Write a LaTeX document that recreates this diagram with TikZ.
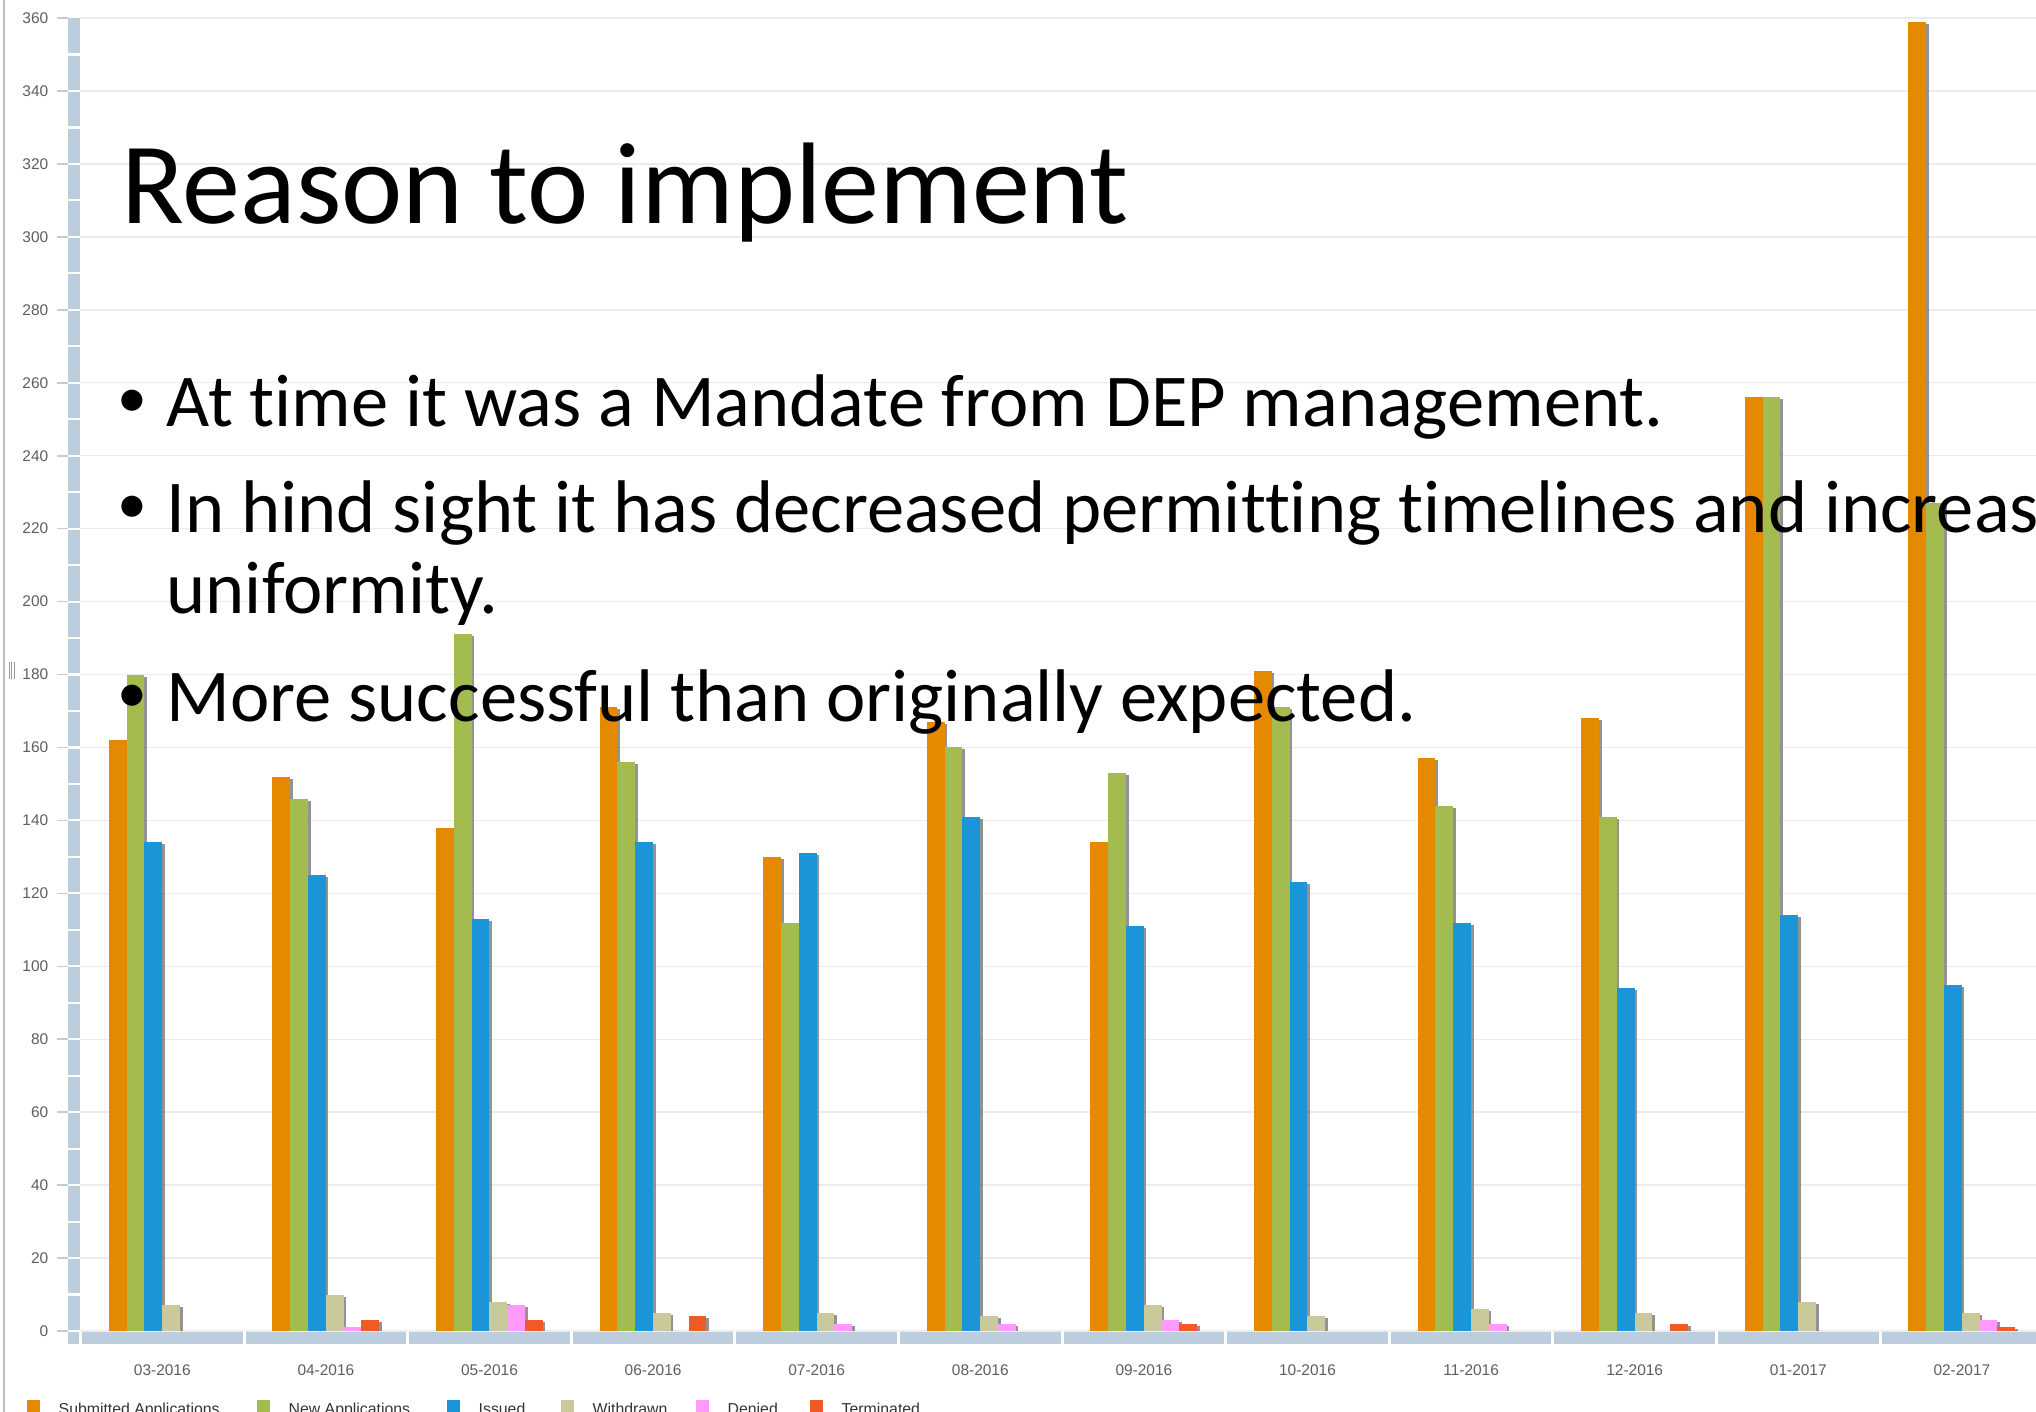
\documentclass[tikz,border=0pt]{standalone}
\usepackage{fontspec}
\setmainfont{Carlito}[Ligatures=NoCommon]
\newfontfamily\chartfont{Liberation Sans}

\definecolor{subcol}{HTML}{E48900}
\definecolor{newcol}{HTML}{A4BB4F}
\definecolor{isscol}{HTML}{1B94D8}
\definecolor{wdcol}{HTML}{C9C99C}
\definecolor{dencol}{HTML}{FF99FA}
\definecolor{termcol}{HTML}{EF5A28}
\definecolor{axiscol}{HTML}{BCCDDD}
\definecolor{gridcol}{HTML}{ECECEC}
\definecolor{ticktext}{HTML}{5E5E5E}

\tikzset{
  ticklabel/.style={font=\chartfont\fontsize{4.4}{5}\selectfont, text=ticktext, inner sep=0pt},
  legendlabel/.style={font=\chartfont\fontsize{4.5}{5}\selectfont, text=black!80, inner sep=0pt, anchor=north west},
  slidetext/.style={font=\fontsize{21.2}{25}\selectfont, inner sep=0pt, anchor=base west},
  bulletdot/.style={font=\fontsize{17}{20}\selectfont, inner sep=0pt, anchor=base},
}

\begin{document}
\begin{tikzpicture}[x=0.01cm, y=-0.01cm]
  \useasboundingbox (0,0) rectangle (2036,1412);
  \clip (0,0) rectangle (2036,1412);
  \fill[white] (0,0) rectangle (2036,1412);
  % Set the zero line and the pixels per unit
  \def\zeroy{1331}
  \def\pxper{3.647}
  \def\barw{17.8}
  % Define the data of each series
  \def\subm{{162,152,138,171,130,167,134,181,157,168,256,359}}
  \def\newapp{{180,146,191,156,112,160,153,171,144,141,256,227}}
  \def\issued{{134,125,113,134,131,141,111,123,112,94,114,95}}
  \def\withdr{{7,10,8,5,5,4,7,4,6,5,8,5}}
  \def\denied{{0,1,7,0,2,2,3,0,2,0,0,3}}
  \def\termin{{0,3,3,4,0,0,2,0,0,2,0,1}}

  % Frame line and handle at the left
  \draw[black!25, line width=0.5pt] (4,0) -- (4,1412);
  \foreach \x in {9,11.5,14} \draw[black!40, line width=0.25pt] (\x,662) -- (\x,679);

  % Gridlines, ticks and value labels
  \foreach \v in {0,20,...,360} {
    \draw[gridcol, line width=0.4pt] (80,{\zeroy-\pxper*\v}) -- (2036,{\zeroy-\pxper*\v});
    \draw[axiscol, line width=0.45pt] (57,{\zeroy-\pxper*\v}) -- (68,{\zeroy-\pxper*\v});
    \node[ticklabel, anchor=east] (ylab\v) at (49,{\zeroy-\pxper*\v}) {\v};
  }

  % Axis strips, cut into pieces
  \fill[axiscol] (67.5,{\zeroy-\pxper*360}) rectangle (79.5,1344);
  \foreach \v in {0,10,...,350}
    \draw[white, line width=0.6pt] (67.5,{\zeroy-\pxper*\v}) -- (79.5,{\zeroy-\pxper*\v});
  \fill[axiscol] (80.5,1332) rectangle (2036,1344);
  \foreach \k in {0,...,12}
    \draw[white, line width=0.85pt] ({80.5+163.6*\k},1331) -- ({80.5+163.6*\k},1345);

  % Draw the bars with their shadows
  \foreach \vals/\col [count=\j from 0] in {\subm/subcol, \newapp/newcol, \issued/isscol, \withdr/wdcol, \denied/dencol, \termin/termcol} {
    \foreach \i in {0,...,11} {
      \pgfmathsetmacro\val{\vals[\i]}
      \pgfmathsetmacro\xl{162.3+163.6*\i-53.5+\barw*\j}
      \pgfmathsetmacro\yt{\zeroy-\pxper*\val}
      \ifdim\val pt>0pt
        \fill[black!60, opacity=0.7] ({\xl+\barw},{\yt+2}) rectangle ({\xl+\barw+2.5},\zeroy);
        \fill[\col] (\xl,\yt) rectangle ({\xl+\barw},\zeroy);
      \fi
    }
  }

  % Month labels
  \foreach \m [count=\i from 0] in {03-2016,04-2016,05-2016,06-2016,07-2016,08-2016,09-2016,10-2016,11-2016,12-2016,01-2017,02-2017}
    \node[ticklabel] (cat\i) at ({162.3+163.6*\i},1370) {\m};

  % Legend, cut by the lower edge
  \foreach \x/\col/\txt [count=\n] in {27/subcol/Submitted Applications, 257/newcol/New Applications, 447/isscol/Issued, 561/wdcol/Withdrawn, 696/dencol/Denied, 810/termcol/Terminated} {
    \fill[\col] (\x,1400) rectangle ({\x+13},1413);
    \node[legendlabel] (leg\n) at ({\x+31},1402) {\txt};
  }

  % Slide title and bullets
  \node[slidetext, font=\fontsize{33}{40}\selectfont] (title) at (121,223) {Reason to implement};
  \node[slidetext] (item1) at (166,426) {At time it was a Mandate from DEP management.};
  \node[slidetext] (item2) at (166,532) {In hind sight it has decreased permitting timelines and increased};
  \node[slidetext] (item2b) at (166,613) {uniformity.};
  \node[slidetext] (item3) at (166,721) {More successful than originally expected.};
  \foreach \n/\y in {1/417, 2/523, 3/712}
    \node[bulletdot] (dot\n) at (132,\y) {\textbullet};
\end{tikzpicture}
\end{document}
